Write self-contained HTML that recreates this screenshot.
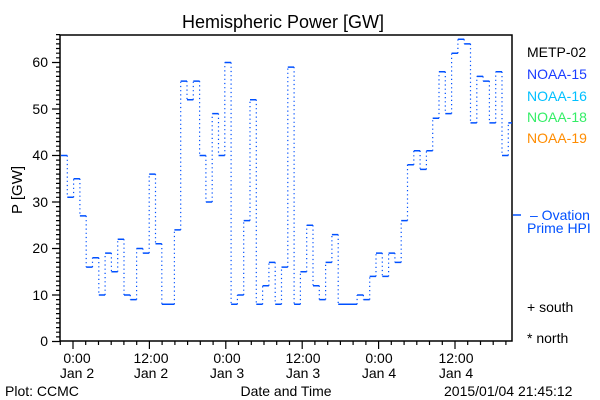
<!DOCTYPE html>
<html><head><meta charset="utf-8"><style>
html,body{margin:0;padding:0;background:#fff}
svg{display:block}
text{font-family:"Liberation Sans",sans-serif;font-size:14px;fill:#000}
</style></head><body>
<svg id="s" width="600" height="400" viewBox="0 0 600 400" xmlns="http://www.w3.org/2000/svg">
<rect width="600" height="400" fill="#fff"/>
<text x="283" y="28" text-anchor="middle" style="font-size:18px">Hemispheric Power [GW]</text>
<g id="ax" stroke="#000" stroke-width="1.5" fill="none">
<path d="M60,35 H512 V341 H60 Z"/>
</g>
<g text-anchor="end">
<text x="48" y="346">0</text><text x="48" y="300">10</text><text x="48" y="253">20</text>
<text x="48" y="207">30</text><text x="48" y="160">40</text><text x="48" y="114">50</text><text x="48" y="67">60</text>
</g>
<text transform="translate(22,190) rotate(-90)" text-anchor="middle" style="font-size:15px">P [GW]</text>
<g text-anchor="middle">
<text x="77" y="363">0:00</text><text x="77" y="378">Jan 2</text>
<text x="151" y="363">12:00</text><text x="151" y="378">Jan 2</text>
<text x="227" y="363">0:00</text><text x="227" y="378">Jan 3</text>
<text x="303" y="363">12:00</text><text x="303" y="378">Jan 3</text>
<text x="379" y="363">0:00</text><text x="379" y="378">Jan 4</text>
<text x="456" y="363">12:00</text><text x="456" y="378">Jan 4</text>
<text x="286" y="396">Date and Time</text>
</g>
<text x="5" y="396">Plot: CCMC</text>
<text x="444" y="396">2015/01/04 21:45:12</text>
<text x="527" y="57">METP-02</text>
<text x="527" y="79" style="fill:#1a3cff">NOAA-15</text>
<text x="527" y="101" style="fill:#00c0ff">NOAA-16</text>
<text x="527" y="122" style="fill:#33ee66">NOAA-18</text>
<text x="527" y="143" style="fill:#ff8c00">NOAA-19</text>
<line x1="513" y1="215" x2="521" y2="215" stroke="#0050ff" stroke-width="1.5"/>
<text x="530" y="220" style="fill:#0050ff">– Ovation</text>
<text x="527" y="233" style="fill:#0050ff">Prime HPI</text>
<text x="527" y="312">+ south</text>
<text x="527" y="343">* north</text>
<g id="ser"></g>
</svg>
<script>
var v=[40,31,35,27,16,18,10,19,15,22,10,9,20,19,36,21,8,8,24,
56,52,56,40,30,49,40,60,8,10,26,52,8,12,17,8,16,59,8,15,25,12,9,17,23,8,8,8,10,9,14,19,14,19,17,26,38,41,37,41,48,58,49,62,65,64,47,57,56,47,58,40,47];
var ns="http://www.w3.org/2000/svg",g=document.getElementById('ser'),ax=document.getElementById('ax');
function Y(p){return 341.5-p*4.65;}
var st=6.3,x0=61,h="",d="";
for(var i=0;i<v.length;i++){var a=x0+i*st,b=Math.min(a+st,512);h+="M"+a.toFixed(1)+","+Y(v[i]).toFixed(1)+"H"+b.toFixed(1);
if(i>0)d+="M"+a.toFixed(1)+","+Y(v[i-1]).toFixed(1)+"V"+Y(v[i]).toFixed(1);}
function P(dd,extra,w){var p=document.createElementNS(ns,'path');p.setAttribute('d',dd);p.setAttribute('stroke','#0050ff');p.setAttribute('fill','none');p.setAttribute('stroke-width',w);if(extra)p.setAttribute('stroke-dasharray',extra);g.appendChild(p);}
P(h,null,'1.5');P(d,"1.2 3",'1.2');
var t="";
for(var k=0;k<=66;k++){var y=Y(k);t+="M"+(k%10==0?52:56)+","+y.toFixed(1)+"H60";}
var hx=76.4/12;
for(var k=-2;k<=70;k+=2){var x=73+k*hx;if(x<60||x>512)continue;t+="M"+x.toFixed(1)+",341V"+(k%12==0?349:345);}
var p=document.createElementNS(ns,'path');p.setAttribute('d',t);p.setAttribute('stroke-width','1.2');ax.appendChild(p);
</script>
</body></html>
